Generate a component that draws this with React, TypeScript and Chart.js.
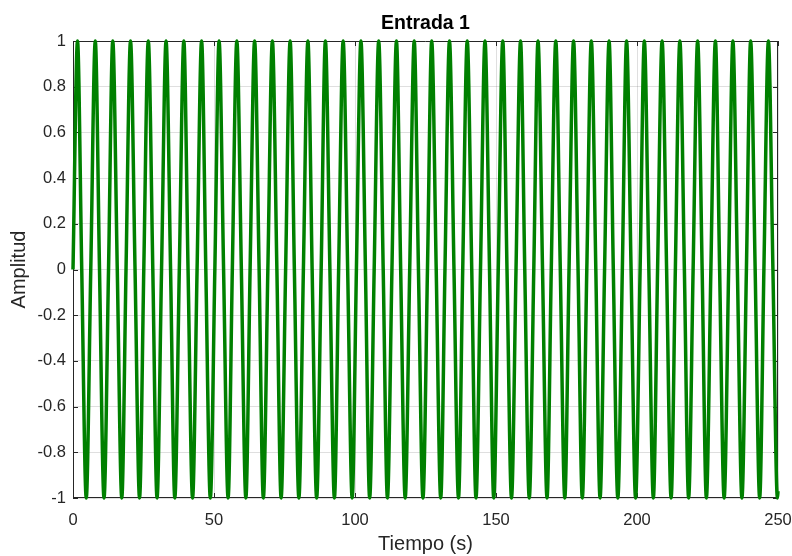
import React, { useEffect, useRef } from "react";
import { Chart, registerables } from "chart.js";

Chart.register(...registerables);

const TITLE = "Entrada 1";
const X_LABEL = "Tiempo (s)";
const Y_LABEL = "Amplitud";

const X_TICKS = [0, 50, 100, 150, 200, 250];
const Y_TICKS = [-1, -0.8, -0.6, -0.4, -0.2, 0, 0.2, 0.4, 0.6, 0.8, 1];

// Times (s) at which the input reaches its crests (+1)
const peakTimes = [
  1.6, 7.9, 14.1, 20.4, 26.7, 33.0, 39.3, 45.6, 51.8, 58.1,
  64.4, 70.7, 77.0, 83.3, 89.5, 95.8, 102.1, 108.4, 114.7, 121.0,
  127.2, 133.5, 139.8, 146.1, 152.4, 158.7, 164.9, 171.2, 177.5, 183.8,
  190.1, 196.3, 202.6, 208.9, 215.2, 221.5, 227.8, 234.0, 240.3, 246.6,
];

// Times (s) at which the input reaches its troughs (-1)
const troughTimes = [
  4.7, 11.0, 17.3, 23.6, 29.8, 36.1, 42.4, 48.7, 55.0, 61.3,
  67.5, 73.8, 80.1, 86.4, 92.7, 99.0, 105.2, 111.5, 117.8, 124.1,
  130.4, 136.7, 142.9, 149.2, 155.5, 161.8, 168.1, 174.4, 180.6, 186.9,
  193.2, 199.5, 205.8, 212.1, 218.3, 224.6, 230.9, 237.2, 243.5, 249.8,
];

// Upward zero crossings (s)
const risingZeroTimes = [
  0, 6.3, 12.6, 18.8, 25.1, 31.4, 37.7, 44.0, 50.3, 56.5,
  62.8, 69.1, 75.4, 81.7, 88.0, 94.2, 100.5, 106.8, 113.1, 119.4,
  125.7, 131.9, 138.2, 144.5, 150.8, 157.1, 163.4, 169.6, 175.9, 182.2,
  188.5, 194.8, 201.1, 207.3, 213.6, 219.9, 226.2, 232.5, 238.8, 245.0,
];

// Downward zero crossings (s)
const fallingZeroTimes = [
  3.1, 9.4, 15.7, 22.0, 28.3, 34.6, 40.8, 47.1, 53.4, 59.7,
  66.0, 72.3, 78.5, 84.8, 91.1, 97.4, 103.7, 110.0, 116.2, 122.5,
  128.8, 135.1, 141.4, 147.7, 153.9, 160.2, 166.5, 172.8, 179.1, 185.4,
  191.6, 197.9, 204.2, 210.5, 216.8, 223.1, 229.3, 235.6, 241.9, 248.2,
];

// Last sample of the record
const endTime = 250;
const endValue = -0.97;

const FONT = "'Liberation Sans', Arial, Helvetica, sans-serif";
const AXIS_COLOR = "#262626";
const GRID_COLOR = "rgba(38,38,38,0.15)";
const LINE_COLOR = "#008000";

type Pt = { x: number; y: number };

function buildSignal(): Pt[] {
  const pts: Pt[] = [
    ...peakTimes.map((t) => ({ x: t, y: 1 })),
    ...troughTimes.map((t) => ({ x: t, y: -1 })),
    ...risingZeroTimes.map((t) => ({ x: t, y: 0 })),
    ...fallingZeroTimes.map((t) => ({ x: t, y: 0 })),
    { x: endTime, y: endValue },
  ];
  return pts.sort((a, b) => a.x - b.x);
}

// Axes box with inward-pointing tick marks, drawn beneath the signal
const axesBox = {
  id: "axesBox",
  beforeDatasetsDraw(chart: any) {
    const { ctx, chartArea } = chart;
    const { left, right, top, bottom } = chartArea;
    const xs = chart.scales.x;
    const ys = chart.scales.y;
    const len = 5;
    ctx.save();
    ctx.strokeStyle = AXIS_COLOR;
    ctx.lineWidth = 1;
    ctx.beginPath();
    ctx.rect(left + 0.5, top + 0.5, right - left - 1, bottom - top - 1);
    for (const v of X_TICKS) {
      const px = Math.round(xs.getPixelForValue(v)) + 0.5;
      ctx.moveTo(px, bottom);
      ctx.lineTo(px, bottom - len);
      ctx.moveTo(px, top);
      ctx.lineTo(px, top + len);
    }
    for (const v of Y_TICKS) {
      const py = Math.round(ys.getPixelForValue(v)) + 0.5;
      ctx.moveTo(left, py);
      ctx.lineTo(left + len, py);
      ctx.moveTo(right, py);
      ctx.lineTo(right - len, py);
    }
    ctx.stroke();
    ctx.restore();
  },
};

export default function App() {
  const canvasRef = useRef<HTMLCanvasElement | null>(null);

  useEffect(() => {
    const canvas = canvasRef.current;
    if (!canvas) return;
    const chart = new Chart(canvas, {
      type: "line",
      data: {
        datasets: [
          {
            label: TITLE,
            data: buildSignal(),
            borderColor: LINE_COLOR,
            backgroundColor: LINE_COLOR,
            borderWidth: 3.5,
            pointRadius: 0,
            fill: false,
            cubicInterpolationMode: "monotone",
            borderJoinStyle: "round",
            clip: false as any,
          },
        ],
      },
      options: {
        animation: false,
        responsive: false,
        maintainAspectRatio: false,
        layout: { padding: { left: 0, right: 14, top: 0, bottom: 0 } },
        plugins: {
          legend: { display: false },
          tooltip: { enabled: false },
          title: {
            display: true,
            text: TITLE,
            fullSize: false,
            color: "#000",
            font: { family: FONT, size: 19.5, weight: "bold" },
            padding: { top: 12, bottom: 5.6 },
          },
        },
        scales: {
          x: {
            type: "linear",
            min: 0,
            max: 250,
            afterBuildTicks: (s: any) => {
              s.ticks = X_TICKS.map((v) => ({ value: v }));
            },
            afterFit: (s: any) => {
              s.height = 58;
              s.paddingLeft = 0;
              s.paddingRight = 0;
            },
            ticks: {
              color: AXIS_COLOR,
              font: { family: FONT, size: 16.5 },
              padding: 13,
              maxRotation: 0,
              autoSkip: false,
              callback: (v: any) => String(v),
            },
            grid: { color: GRID_COLOR, drawTicks: false, lineWidth: 1 },
            border: { display: false },
            title: {
              display: true,
              text: X_LABEL,
              color: AXIS_COLOR,
              font: { family: FONT, size: 20 },
              padding: { top: 0, bottom: 0 },
            },
          },
          y: {
            type: "linear",
            min: -1,
            max: 1,
            afterBuildTicks: (s: any) => {
              s.ticks = Y_TICKS.map((v) => ({ value: v }));
            },
            afterFit: (s: any) => {
              s.width = 73;
              s.paddingTop = 0;
              s.paddingBottom = 0;
            },
            ticks: {
              color: AXIS_COLOR,
              font: { family: FONT, size: 16.5 },
              padding: 7,
              autoSkip: false,
              callback: (v: any) => String(Number(v)),
            },
            grid: { color: GRID_COLOR, drawTicks: false, lineWidth: 1 },
            border: { display: false },
            title: {
              display: true,
              text: Y_LABEL,
              color: AXIS_COLOR,
              font: { family: FONT, size: 20 },
              padding: { top: 7, bottom: 0 },
            },
          },
        },
      },
      plugins: [axesBox],
    });
    return () => chart.destroy();
  }, []);

  return (
    <div style={{ position: "absolute", left: 0, top: 0, width: 792, height: 556, background: "#fff" }}>
      <canvas ref={canvasRef} width={792} height={556} style={{ display: "block", width: 792, height: 556 }} />
    </div>
  );
}
